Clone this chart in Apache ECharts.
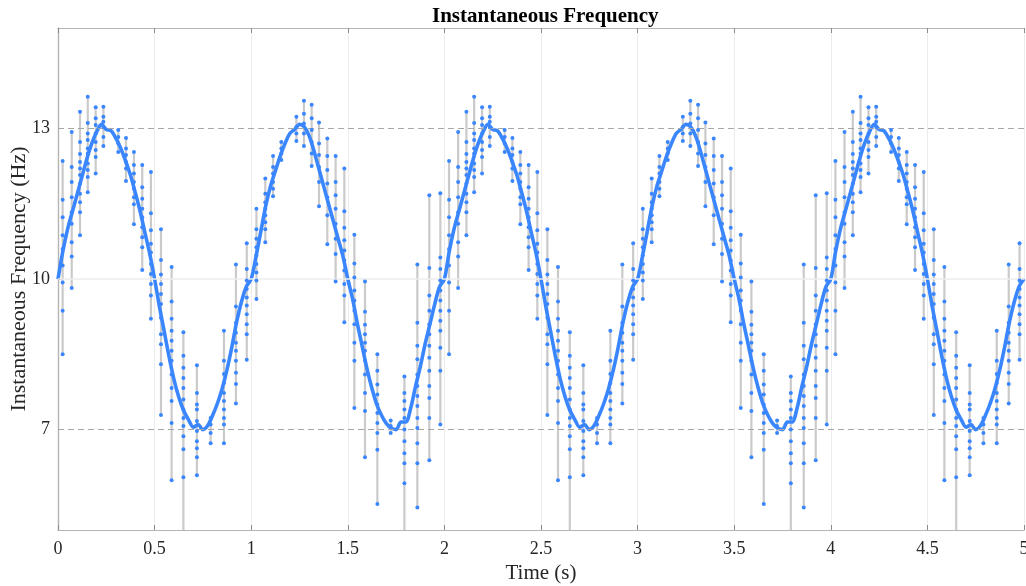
<!DOCTYPE html>
<html>
<head>
<meta charset="utf-8">
<script src="https://cdn.jsdelivr.net/npm/echarts@6/dist/echarts.min.js"></script>
<style>
html,body{margin:0;padding:0;background:#fff;}
#chart{width:1026px;height:586px;}
</style>
</head>
<body>
<div id="chart"></div>
<script>
// ---------- DATA ----------
const xTicks = [0, 0.5, 1, 1.5, 2, 2.5, 3, 3.5, 4, 4.5, 5];
const yTicks = [7, 10, 13];
const curveStep = 0.025; // s between curve samples
const curveValues = [
  // 0 - 1 s
  10.0, 10.55, 11.0, 11.35, 11.7, 12.05, 12.4, 12.7, 12.93, 13.08,
  12.98, 12.95, 12.8, 12.6, 12.35, 12.07, 11.72, 11.35, 10.92, 10.5,
  10.0, 9.45, 8.95, 8.45, 8.0, 7.65, 7.38, 7.2, 7.05, 7.1,
  7.0, 7.08, 7.28, 7.52, 7.82, 8.2, 8.65, 9.15, 9.55, 9.85,
  // 1 - 2 s
  10.0, 10.45, 10.95, 11.45, 11.85, 12.15, 12.45, 12.7, 12.9, 12.98,
  13.08, 13.03, 12.85, 12.55, 12.2, 11.85, 11.5, 11.15, 10.8, 10.45,
  10.0, 9.6, 9.1, 8.65, 8.2, 7.82, 7.5, 7.28, 7.12, 7.03,
  7.0, 7.15, 7.15, 7.42, 7.85, 8.25, 8.7, 9.1, 9.5, 9.85,
  // 2 - 3 s
  10.0, 10.55, 11.0, 11.35, 11.7, 12.05, 12.4, 12.7, 12.93, 13.08,
  12.98, 12.95, 12.8, 12.6, 12.35, 12.07, 11.72, 11.35, 10.92, 10.5,
  10.0, 9.45, 8.95, 8.45, 8.0, 7.65, 7.38, 7.2, 7.05, 7.1,
  7.0, 7.08, 7.28, 7.52, 7.82, 8.2, 8.65, 9.15, 9.55, 9.85,
  // 3 - 4 s
  10.0, 10.45, 10.95, 11.45, 11.85, 12.15, 12.45, 12.7, 12.9, 12.98,
  13.08, 13.03, 12.85, 12.55, 12.2, 11.85, 11.5, 11.15, 10.8, 10.45,
  10.0, 9.6, 9.1, 8.65, 8.2, 7.82, 7.5, 7.28, 7.12, 7.03,
  7.0, 7.15, 7.15, 7.42, 7.85, 8.25, 8.7, 9.1, 9.5, 9.85,
  // 4 - 5 s
  10.0, 10.55, 11.0, 11.35, 11.7, 12.05, 12.4, 12.7, 12.93, 13.08,
  12.98, 12.95, 12.8, 12.6, 12.35, 12.07, 11.72, 11.35, 10.92, 10.5,
  10.0, 9.45, 8.95, 8.45, 8.0, 7.65, 7.38, 7.2, 7.05, 7.1,
  7.0, 7.08, 7.28, 7.52, 7.82, 8.2, 8.65, 9.15, 9.55, 9.85,
  10.0
];

// scattered estimates: time of each vertical cluster, lower end of its grey span, and its dots
const stemTime = [
  0.024, 0.071, 0.114, 0.154, 0.195, 0.235, 0.312, 0.352, 0.393, 0.436, 0.481, 0.533, 0.588, 0.649, 0.719, 0.790, 0.859, 0.921, 0.977,
  1.027, 1.073, 1.113, 1.156, 1.234, 1.273, 1.313, 1.351, 1.394, 1.437, 1.482, 1.534, 1.589, 1.653, 1.722, 1.793, 1.860, 1.922, 1.979,
  2.024, 2.071, 2.114, 2.154, 2.195, 2.235, 2.312, 2.352, 2.393, 2.436, 2.481, 2.533, 2.588, 2.649, 2.719, 2.790, 2.859, 2.921, 2.977,
  3.027, 3.073, 3.113, 3.156, 3.234, 3.273, 3.313, 3.351, 3.394, 3.437, 3.482, 3.534, 3.589, 3.653, 3.722, 3.793, 3.860, 3.922, 3.979,
  4.024, 4.071, 4.114, 4.154, 4.195, 4.235, 4.312, 4.352, 4.393, 4.436, 4.481, 4.533, 4.588, 4.649, 4.719, 4.790, 4.859, 4.921, 4.977
];
const stemLow = [
  8.5, 9.82, 10.87, 11.73, 12.1, 12.65, 12.53, 11.95, 11.09, 10.18, 9.21, 7.29, 5.99, 5.0, 6.09, 6.73, 6.73, 7.52, 8.39,
  9.6, 10.73, 11.65, 12.37, 12.75, 12.65, 12.25, 11.45, 10.69, 9.95, 9.14, 7.43, 6.45, 5.52, 6.93, 5.0, 5.45, 6.39, 7.1,
  8.5, 9.82, 10.87, 11.73, 12.1, 12.65, 12.53, 11.95, 11.09, 10.18, 9.21, 7.29, 5.99, 5.0, 6.09, 6.73, 6.73, 7.52, 8.39,
  9.6, 10.73, 11.65, 12.37, 12.75, 12.65, 12.25, 11.45, 10.69, 9.95, 9.14, 7.43, 6.45, 5.52, 6.93, 5.0, 5.45, 6.39, 7.1,
  8.5, 9.82, 10.87, 11.73, 12.1, 12.65, 12.53, 11.95, 11.09, 10.18, 9.21, 7.29, 5.99, 5.0, 6.09, 6.73, 6.73, 7.52, 8.39
];
const stemDots = [
  // 0 - 1 s
  [12.35, 11.58, 11.23, 10.87, 10.6, 10.27, 9.93, 9.37, 8.5],
  [12.93, 12.23, 11.93, 11.63, 11.33, 11.1, 10.73, 10.45, 9.82],
  [13.33, 12.73, 12.49, 12.33, 12.2, 12.07, 11.9, 11.7, 11.53, 11.33, 10.87],
  [13.63, 13.11, 12.9, 12.77, 12.6, 12.5, 12.3, 12.17, 12.03, 11.73],
  [13.42, 13.2, 13.07, 12.9, 12.73, 12.57, 12.43, 12.1],
  [13.43, 13.23, 13.13, 13.03, 12.83, 12.65],
  [12.97, 12.83, 12.7, 12.53],
  [12.81, 12.6, 12.47, 12.33, 12.2, 11.95],
  [12.53, 12.27, 12.1, 11.93, 11.8, 11.63, 11.49, 11.09],
  [12.27, 11.83, 11.6, 11.4, 11.23, 11.03, 10.83, 10.63, 10.18],
  [12.13, 11.31, 10.97, 10.7, 10.53, 10.3, 10.1, 9.9, 9.67, 9.21],
  [10.99, 10.38, 10.09, 9.9, 9.7, 9.5, 9.23, 8.9, 8.7, 8.3, 7.29],
  [10.24, 9.55, 9.21, 8.97, 8.77, 8.57, 8.37, 8.1, 7.83, 7.57, 7.13, 5.99],
  [8.94, 8.47, 8.23, 8.03, 7.83, 7.6, 7.4, 7.23, 7.07, 6.87, 6.61, 6.05],
  [8.28, 7.73, 7.5, 7.4, 7.17, 6.97, 6.77, 6.63, 6.45, 6.09],
  [7.23, 7.1, 6.93, 6.73],
  [8.97, 8.37, 8.11, 7.93, 7.73, 7.57, 7.4, 7.23, 7.1, 6.73],
  [10.29, 9.45, 9.13, 8.93, 8.73, 8.57, 8.37, 8.13, 7.91, 7.52],
  [10.71, 10.2, 9.97, 9.8, 9.63, 9.47, 9.3, 9.1, 8.9, 8.39],
  // 1 - 2 s
  [11.4, 10.99, 10.8, 10.63, 10.47, 10.3, 10.13, 9.97, 9.6],
  [12.0, 11.7, 11.53, 11.4, 11.27, 11.13, 10.99, 10.73],
  [12.45, 12.23, 12.1, 11.93, 11.8, 11.65],
  [12.73, 12.6, 12.5, 12.37],
  [13.23, 13.03, 12.9, 12.75],
  [13.55, 13.29, 13.1, 12.9, 12.65],
  [13.47, 13.2, 12.97, 12.73, 12.5, 12.25],
  [13.12, 12.7, 12.47, 12.23, 11.93, 11.45],
  [12.8, 12.45, 12.17, 11.9, 11.63, 11.27, 10.69],
  [12.45, 11.93, 11.67, 11.4, 11.1, 10.8, 10.5, 9.95],
  [12.2, 11.35, 11.02, 10.77, 10.57, 10.37, 10.17, 9.9, 9.67, 9.14],
  [10.88, 10.31, 10.03, 9.77, 9.57, 9.37, 9.1, 8.73, 8.37, 7.43],
  [9.95, 9.35, 9.09, 8.9, 8.73, 8.57, 8.37, 8.1, 7.73, 7.37, 6.45],
  [8.5, 8.17, 7.9, 7.7, 7.5, 7.33, 7.13, 6.93, 6.6, 5.52],
  [7.18, 7.07, 6.93],
  [8.06, 7.73, 7.57, 7.4, 7.23, 7.0, 6.77, 6.53, 6.33, 5.93],
  [10.29, 9.13, 8.67, 8.4, 8.1, 7.87, 7.67, 7.47, 7.23, 7.03, 6.73, 6.33, 5.45],
  [11.67, 10.22, 9.67, 9.37, 9.1, 8.9, 8.67, 8.43, 8.17, 7.87, 7.63, 7.23, 6.39],
  [11.71, 10.43, 10.2, 9.97, 9.77, 9.57, 9.37, 9.17, 8.97, 8.63, 8.17, 7.1],
  // 2 - 3 s
  [12.35, 11.58, 11.23, 10.87, 10.6, 10.27, 9.93, 9.37, 8.5],
  [12.93, 12.23, 11.93, 11.63, 11.33, 11.1, 10.73, 10.45, 9.82],
  [13.33, 12.73, 12.49, 12.33, 12.2, 12.07, 11.9, 11.7, 11.53, 11.33, 10.87],
  [13.63, 13.11, 12.9, 12.77, 12.6, 12.5, 12.3, 12.17, 12.03, 11.73],
  [13.42, 13.2, 13.07, 12.9, 12.73, 12.57, 12.43, 12.1],
  [13.43, 13.23, 13.13, 13.03, 12.83, 12.65],
  [12.97, 12.83, 12.7, 12.53],
  [12.81, 12.6, 12.47, 12.33, 12.2, 11.95],
  [12.53, 12.27, 12.1, 11.93, 11.8, 11.63, 11.49, 11.09],
  [12.27, 11.83, 11.6, 11.4, 11.23, 11.03, 10.83, 10.63, 10.18],
  [12.13, 11.31, 10.97, 10.7, 10.53, 10.3, 10.1, 9.9, 9.67, 9.21],
  [10.99, 10.38, 10.09, 9.9, 9.7, 9.5, 9.23, 8.9, 8.7, 8.3, 7.29],
  [10.24, 9.55, 9.21, 8.97, 8.77, 8.57, 8.37, 8.1, 7.83, 7.57, 7.13, 5.99],
  [8.94, 8.47, 8.23, 8.03, 7.83, 7.6, 7.4, 7.23, 7.07, 6.87, 6.61, 6.05],
  [8.28, 7.73, 7.5, 7.4, 7.17, 6.97, 6.77, 6.63, 6.45, 6.09],
  [7.23, 7.1, 6.93, 6.73],
  [8.97, 8.37, 8.11, 7.93, 7.73, 7.57, 7.4, 7.23, 7.1, 6.73],
  [10.29, 9.45, 9.13, 8.93, 8.73, 8.57, 8.37, 8.13, 7.91, 7.52],
  [10.71, 10.2, 9.97, 9.8, 9.63, 9.47, 9.3, 9.1, 8.9, 8.39],
  // 3 - 4 s
  [11.4, 10.99, 10.8, 10.63, 10.47, 10.3, 10.13, 9.97, 9.6],
  [12.0, 11.7, 11.53, 11.4, 11.27, 11.13, 10.99, 10.73],
  [12.45, 12.23, 12.1, 11.93, 11.8, 11.65],
  [12.73, 12.6, 12.5, 12.37],
  [13.23, 13.03, 12.9, 12.75],
  [13.55, 13.29, 13.1, 12.9, 12.65],
  [13.47, 13.2, 12.97, 12.73, 12.5, 12.25],
  [13.12, 12.7, 12.47, 12.23, 11.93, 11.45],
  [12.8, 12.45, 12.17, 11.9, 11.63, 11.27, 10.69],
  [12.45, 11.93, 11.67, 11.4, 11.1, 10.8, 10.5, 9.95],
  [12.2, 11.35, 11.02, 10.77, 10.57, 10.37, 10.17, 9.9, 9.67, 9.14],
  [10.88, 10.31, 10.03, 9.77, 9.57, 9.37, 9.1, 8.73, 8.37, 7.43],
  [9.95, 9.35, 9.09, 8.9, 8.73, 8.57, 8.37, 8.1, 7.73, 7.37, 6.45],
  [8.5, 8.17, 7.9, 7.7, 7.5, 7.33, 7.13, 6.93, 6.6, 5.52],
  [7.18, 7.07, 6.93],
  [8.06, 7.73, 7.57, 7.4, 7.23, 7.0, 6.77, 6.53, 6.33, 5.93],
  [10.29, 9.13, 8.67, 8.4, 8.1, 7.87, 7.67, 7.47, 7.23, 7.03, 6.73, 6.33, 5.45],
  [11.67, 10.22, 9.67, 9.37, 9.1, 8.9, 8.67, 8.43, 8.17, 7.87, 7.63, 7.23, 6.39],
  [11.71, 10.43, 10.2, 9.97, 9.77, 9.57, 9.37, 9.17, 8.97, 8.63, 8.17, 7.1],
  // 4 - 5 s
  [12.35, 11.58, 11.23, 10.87, 10.6, 10.27, 9.93, 9.37, 8.5],
  [12.93, 12.23, 11.93, 11.63, 11.33, 11.1, 10.73, 10.45, 9.82],
  [13.33, 12.73, 12.49, 12.33, 12.2, 12.07, 11.9, 11.7, 11.53, 11.33, 10.87],
  [13.63, 13.11, 12.9, 12.77, 12.6, 12.5, 12.3, 12.17, 12.03, 11.73],
  [13.42, 13.2, 13.07, 12.9, 12.73, 12.57, 12.43, 12.1],
  [13.43, 13.23, 13.13, 13.03, 12.83, 12.65],
  [12.97, 12.83, 12.7, 12.53],
  [12.81, 12.6, 12.47, 12.33, 12.2, 11.95],
  [12.53, 12.27, 12.1, 11.93, 11.8, 11.63, 11.49, 11.09],
  [12.27, 11.83, 11.6, 11.4, 11.23, 11.03, 10.83, 10.63, 10.18],
  [12.13, 11.31, 10.97, 10.7, 10.53, 10.3, 10.1, 9.9, 9.67, 9.21],
  [10.99, 10.38, 10.09, 9.9, 9.7, 9.5, 9.23, 8.9, 8.7, 8.3, 7.29],
  [10.24, 9.55, 9.21, 8.97, 8.77, 8.57, 8.37, 8.1, 7.83, 7.57, 7.13, 5.99],
  [8.94, 8.47, 8.23, 8.03, 7.83, 7.6, 7.4, 7.23, 7.07, 6.87, 6.61, 6.05],
  [8.28, 7.73, 7.5, 7.4, 7.17, 6.97, 6.77, 6.63, 6.45, 6.09],
  [7.23, 7.1, 6.93, 6.73],
  [8.97, 8.37, 8.11, 7.93, 7.73, 7.57, 7.4, 7.23, 7.1, 6.73],
  [10.29, 9.45, 9.13, 8.93, 8.73, 8.57, 8.37, 8.13, 7.91, 7.52],
  [10.71, 10.2, 9.97, 9.8, 9.63, 9.47, 9.3, 9.1, 8.9, 8.39]
];

// ---------- BUILD ----------
const FONT = '"Liberation Serif", "DejaVu Serif", serif';
const BLUE = '#3a86ff';
const curveData = curveValues.map((v, i) => [+(i * curveStep).toFixed(3), v]);
const stemData = stemTime.map((t, i) => [t, stemLow[i], Math.max.apply(null, stemDots[i])]);
const dotData = [];
stemTime.forEach((t, i) => stemDots[i].forEach(v => dotData.push([t, v])));

const chart = echarts.init(document.getElementById('chart'), null, {renderer: 'canvas'});
chart.setOption({
  animation: false,
  backgroundColor: '#ffffff',
  title: {
    text: 'Instantaneous Frequency',
    left: 427, top: 1,
    textStyle: {fontFamily: FONT, fontSize: 21, fontWeight: 'bold', color: '#000'}
  },
  grid: {left: 58, right: 2, top: 28, bottom: 56, containLabel: false, outerBoundsMode: 'none'},
  xAxis: [{
    type: 'value', min: 0, max: 5, interval: 0.5,
    name: 'Time (s)', nameLocation: 'middle', nameGap: 33, nameMoveOverlap: false,
    nameTextStyle: {fontFamily: FONT, fontSize: 21, color: '#262626'},
    axisLine: {show: true, lineStyle: {color: '#b4b4b4', width: 1.2}},
    axisTick: {show: true, inside: true, length: 5, lineStyle: {color: '#8c8c8c'}},
    axisLabel: {fontFamily: FONT, fontSize: 18, color: '#262626', margin: 10},
    splitLine: {show: true, lineStyle: {color: '#ececec', width: 1}}
  }, {
    type: 'value', min: 0, max: 5, interval: 0.5, position: 'top',
    axisLine: {show: true, lineStyle: {color: '#b4b4b4', width: 1.2}},
    axisTick: {show: true, inside: true, length: 5, lineStyle: {color: '#8c8c8c'}},
    axisLabel: {show: false}, splitLine: {show: false}
  }],
  yAxis: [{
    type: 'value', min: 5, max: 15,
    name: 'Instantaneous Frequency (Hz)', nameLocation: 'middle', nameGap: 28, nameMoveOverlap: false,
    nameTextStyle: {fontFamily: FONT, fontSize: 22, color: '#262626'},
    axisLine: {show: true, lineStyle: {color: '#b4b4b4', width: 1.2}},
    axisTick: {show: true, inside: true, length: 5, customValues: yTicks, lineStyle: {color: '#8c8c8c'}},
    axisLabel: {fontFamily: FONT, fontSize: 18, color: '#262626', margin: 8, customValues: yTicks},
    splitLine: {show: false}
  }, {
    type: 'value', min: 5, max: 15, position: 'right',
    axisLine: {show: true, lineStyle: {color: '#b4b4b4', width: 1.2}},
    axisTick: {show: false}, axisLabel: {show: false}, splitLine: {show: false}
  }],
  series: [{
    type: 'custom',
    name: 'spread',
    xAxisIndex: 0, yAxisIndex: 0,
    clip: true,
    z: 2,
    data: stemData,
    renderItem: function (params, api) {
      const p1 = api.coord([api.value(0), api.value(1)]);
      const p2 = api.coord([api.value(0), api.value(2)]);
      return {
        type: 'line',
        shape: {x1: p1[0], y1: p1[1], x2: p2[0], y2: p2[1]},
        style: {stroke: '#cacaca', lineWidth: 2.2}
      };
    },
    markLine: {
      silent: true, symbol: 'none', label: {show: false},
      data: [
        {yAxis: 10, lineStyle: {type: 'solid', color: '#ececec', width: 1.5}},
        {yAxis: 7, lineStyle: {type: [6, 4], color: '#a6a6a6', width: 1}},
        {yAxis: 13, lineStyle: {type: [6, 4], color: '#a6a6a6', width: 1}}
      ]
    }
  }, {
    type: 'line',
    name: 'curve',
    data: curveData,
    smooth: 0.3,
    showSymbol: false,
    z: 4,
    lineStyle: {color: BLUE, width: 3.6},
    itemStyle: {color: BLUE}
  }, {
    type: 'scatter',
    name: 'points',
    data: dotData,
    symbolSize: 4,
    z: 5,
    itemStyle: {color: BLUE, opacity: 1}
  }]
});
</script>
</body>
</html>
